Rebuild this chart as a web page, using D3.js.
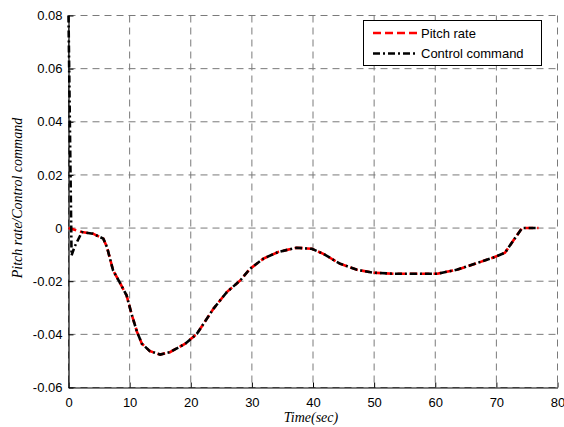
<!DOCTYPE html>
<html>
<head>
<meta charset="utf-8">
<script src="https://cdn.jsdelivr.net/npm/d3@7"></script>
<style>
  body { margin: 0; background: #fff; }
  svg { display: block; }
</style>
</head>
<body>
<svg id="canvas" width="564" height="427"></svg>
<script>
"use strict"

// Values
let timeSec = [0, 0.5, 1.0, 2.2, 4.0, 5.7, 6.3, 7.3, 8.2, 9.5, 10.3, 11.2, 12.0, 13.3, 15.0, 16.6, 19.1, 21.0, 23.7, 25.9, 28.1, 29.7, 31.9, 34.3, 37.3, 39.8, 41.7, 44.4, 47.2, 49.9, 53.2, 60.3, 63.5, 66.8, 69.5, 71.4, 72.8, 74.2, 76.9];
let pitchRate = [0, -0.0003, -0.0006, -0.0015, -0.0021, -0.004, -0.0072, -0.016, -0.0197, -0.0253, -0.0322, -0.039, -0.0435, -0.0463, -0.0476, -0.0467, -0.0435, -0.0398, -0.0304, -0.0241, -0.0197, -0.0153, -0.0115, -0.009, -0.0074, -0.0078, -0.0097, -0.0134, -0.0157, -0.0168, -0.0172, -0.0172, -0.0157, -0.0132, -0.0111, -0.0093, -0.0046, 0, 0];
let controlCmd = [0.08, -0.0103, -0.007, -0.0015, -0.0021, -0.004, -0.0072, -0.016, -0.0197, -0.0253, -0.0322, -0.039, -0.0435, -0.0463, -0.0476, -0.0467, -0.0435, -0.0398, -0.0304, -0.0241, -0.0197, -0.0153, -0.0115, -0.009, -0.0074, -0.0078, -0.0097, -0.0134, -0.0157, -0.0168, -0.0172, -0.0172, -0.0157, -0.0132, -0.0111, -0.0093, -0.0046, 0, 0];

let xTicks = [0, 10, 20, 30, 40, 50, 60, 70, 80];
let yTicks = [-0.06, -0.04, -0.02, 0, 0.02, 0.04, 0.06, 0.08];
let legendNames = ["Pitch rate", "Control command"];

let plotLeft = 68.5, plotRight = 557.5, plotTop = 15.5, plotBottom = 387.5;

let x = d3.scaleLinear().domain([0, 80]).range([plotLeft, plotRight]);
let y = d3.scaleLinear().domain([-0.06, 0.08]).range([plotBottom, plotTop]);

let drawing = d3.select("#canvas");

/* grid lines (dashed grey) */
let grid = drawing.append("g");
grid.selectAll(".vg").data(xTicks).enter().append("line")
    .attr("x1", d => x(d)).attr("x2", d => x(d))
    .attr("y1", plotTop).attr("y2", plotBottom)
    .attr("stroke", "#7a7a7a").attr("stroke-width", 1)
    .attr("stroke-dasharray", "7,5");
grid.selectAll(".hg").data(yTicks).enter().append("line")
    .attr("x1", plotLeft).attr("x2", plotRight)
    .attr("y1", d => y(d)).attr("y2", d => y(d))
    .attr("stroke", "#7a7a7a").attr("stroke-width", 1)
    .attr("stroke-dasharray", "7,5");

/* axes: left and bottom, ticks pointing inward */
let fmtY = d => d === 0 ? "0" : d3.format(".2f")(d).replace("\u2212", "-");
let xAxis = d3.axisBottom(x).tickValues(xTicks).tickSizeInner(-5).tickSizeOuter(0).tickPadding(10);
let yAxis = d3.axisLeft(y).tickValues(yTicks).tickSizeInner(-5).tickSizeOuter(0).tickPadding(6).tickFormat(fmtY);

let gx = drawing.append("g").attr("transform", "translate(0," + plotBottom + ")").call(xAxis);
let gy = drawing.append("g").attr("transform", "translate(" + plotLeft + ",0)").call(yAxis);
[gx, gy].forEach(g => {
    g.select(".domain").attr("stroke", "#000").attr("stroke-width", 1.2);
    g.selectAll(".tick line").attr("stroke", "#000");
    g.selectAll("text").attr("font-family", "Liberation Sans, Arial, sans-serif")
        .attr("font-size", 13).attr("fill", "#000");
});

/* curves */
let curve = d3.line().x((d, i) => x(timeSec[i])).y(d => y(d));
drawing.append("path").datum(pitchRate)
    .attr("d", curve)
    .attr("fill", "none").attr("stroke", "#ff0000").attr("stroke-width", 2.6)
    .attr("stroke-dasharray", "8,4");
drawing.append("path").datum(controlCmd)
    .attr("d", curve)
    .attr("fill", "none").attr("stroke", "#000").attr("stroke-width", 2.6)
    .attr("stroke-dasharray", "7,3,2,3");

/* axis titles */
drawing.append("text")
    .attr("x", 311).attr("y", 422)
    .attr("text-anchor", "middle")
    .attr("font-family", "Liberation Serif, Times New Roman, serif")
    .attr("font-style", "italic").attr("font-size", 14)
    .text("Time(sec)");
drawing.append("text")
    .attr("transform", "translate(22,198) rotate(-90)")
    .attr("text-anchor", "middle")
    .attr("font-family", "Liberation Serif, Times New Roman, serif")
    .attr("font-style", "italic").attr("font-size", 14)
    .text("Pitch rate/Control command");

/* legend */
let legend = drawing.append("g");
legend.append("rect")
    .attr("x", 363.5).attr("y", 20.5).attr("width", 178).attr("height", 45)
    .attr("fill", "#fff").attr("stroke", "#000").attr("stroke-width", 1);
let legendStyles = [
    { color: "#ff0000", dash: "8,4" },
    { color: "#000", dash: "7,3,2,3" }
];
legendNames.forEach((name, i) => {
    let ly = 33 + i * 20.5;
    legend.append("line")
        .attr("x1", 373).attr("x2", 417).attr("y1", ly).attr("y2", ly)
        .attr("stroke", legendStyles[i].color).attr("stroke-width", 2.6)
        .attr("stroke-dasharray", legendStyles[i].dash);
    legend.append("text")
        .attr("x", 421).attr("y", ly + 4.5)
        .attr("font-family", "Liberation Sans, Arial, sans-serif")
        .attr("font-size", 13)
        .text(name);
});
</script>
</body>
</html>
